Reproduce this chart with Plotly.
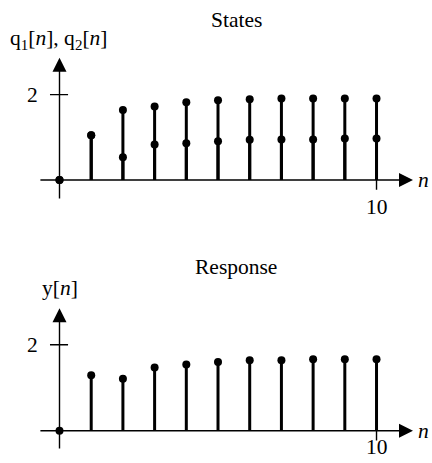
import plotly.graph_objects as go

# sample index
n = list(range(11))

# states (upper and lower state sequence)
q1 = [0, 1.05, 1.64, 1.72, 1.82, 1.87, 1.89, 1.91, 1.91, 1.91, 1.91]
q2 = [0, 1.05, 0.53, 0.83, 0.86, 0.91, 0.945, 0.95, 0.95, 0.97, 0.97]

# response
y = [0, 1.29, 1.21, 1.47, 1.54, 1.60, 1.64, 1.64, 1.66, 1.66, 1.66]

FONT = "Liberation Serif"
FS = 21.5


def stems(xs, vals):
    sx, sy = [], []
    for a, b in zip(xs, vals):
        sx += [a, a, None]
        sy += [0, b, None]
    return sx, sy


fig = go.Figure()

panels = [("x", "y", [q1, q2]), ("x2", "y2", [y])]
for xa, ya, series in panels:
    for s in series:
        sx, sy = stems(n, s)
        fig.add_trace(go.Scatter(x=sx, y=sy, mode="lines", xaxis=xa, yaxis=ya,
                                 line=dict(color="black", width=3), hoverinfo="skip"))
    for s in series:
        fig.add_trace(go.Scatter(x=n, y=s, mode="markers", xaxis=xa, yaxis=ya,
                                 marker=dict(color="black", size=8)))


def axes_annots(xa, ya, y_bottom, y_tip):
    out = []
    # horizontal axis with arrow
    out.append(dict(x=11.15, y=0, ax=-0.65, ay=0, xref=xa, yref=ya, axref=xa, ayref=ya,
                    text="", showarrow=True, arrowhead=2, arrowsize=2.0, arrowwidth=1.4,
                    arrowcolor="black", standoff=0))
    # vertical axis with arrow
    out.append(dict(x=0, y=y_tip, ax=0, ay=y_bottom, xref=xa, yref=ya, axref=xa, ayref=ya,
                    text="", showarrow=True, arrowhead=2, arrowsize=2.0, arrowwidth=1.4,
                    arrowcolor="black", standoff=0))
    return out


annots = []
annots += axes_annots("x", "y", -0.47, 2.86)
annots += axes_annots("x2", "y2", -0.45, 2.85)

txt = [
    ("x", "y", 5.57, 3.75, "States", "center"),
    ("x", "y", -1.62, 3.28, "q<sub>1</sub>[<i>n</i>], q<sub>2</sub>[<i>n</i>]", "left"),
    ("x", "y", -0.85, 2.0, "2", "center"),
    ("x", "y", 11.47, 0.0, "<i>n</i>", "center"),
    ("x", "y", 10.0, -0.63, "10", "center"),
    ("x2", "y2", 5.57, 3.81, "Response", "center"),
    ("x2", "y2", -0.62, 3.32, "y[<i>n</i>]", "left"),
    ("x2", "y2", -0.85, 2.0, "2", "center"),
    ("x2", "y2", 11.47, 0.0, "<i>n</i>", "center"),
    ("x2", "y2", 10.0, -0.38, "10", "center"),
]
for xa, ya, xv, yv, t, anc in txt:
    annots.append(dict(x=xv, y=yv, xref=xa, yref=ya, text=t, showarrow=False,
                       xanchor=anc, yanchor="middle",
                       font=dict(family=FONT, size=FS, color="black")))

# ticks at y=2 and n=10
shapes = []
for xa, ya in [("x", "y"), ("x2", "y2")]:
    shapes.append(dict(type="line", xref=xa, yref=ya, x0=-0.3, x1=0.27, y0=2, y1=2,
                       line=dict(color="black", width=1.4)))
    shapes.append(dict(type="line", xref=xa, yref=ya, x0=10, x1=10, y0=0, y1=-0.23,
                       line=dict(color="black", width=1.4)))

ax_common = dict(visible=False, showgrid=False, zeroline=False, fixedrange=True)
fig.update_layout(
    width=432, height=463,
    margin=dict(l=0, r=0, t=0, b=0),
    paper_bgcolor="white", plot_bgcolor="white",
    showlegend=False,
    xaxis=dict(ax_common, range=[-1.877, 11.75], domain=[0, 1], anchor="y"),
    yaxis=dict(ax_common, range=[-1.206, 4.215], domain=[0.5, 1], anchor="x"),
    xaxis2=dict(ax_common, range=[-1.877, 11.75], domain=[0, 1], anchor="y2"),
    yaxis2=dict(ax_common, range=[-0.751, 4.633], domain=[0, 0.5], anchor="x2"),
    annotations=annots,
    shapes=shapes,
)

# drop the default 8px page margin so the figure fills the window
fig.write_html("out.html", config={"displayModeBar": False},
               post_script="document.body.style.margin='0';"
                           "document.body.style.overflow='hidden';")
